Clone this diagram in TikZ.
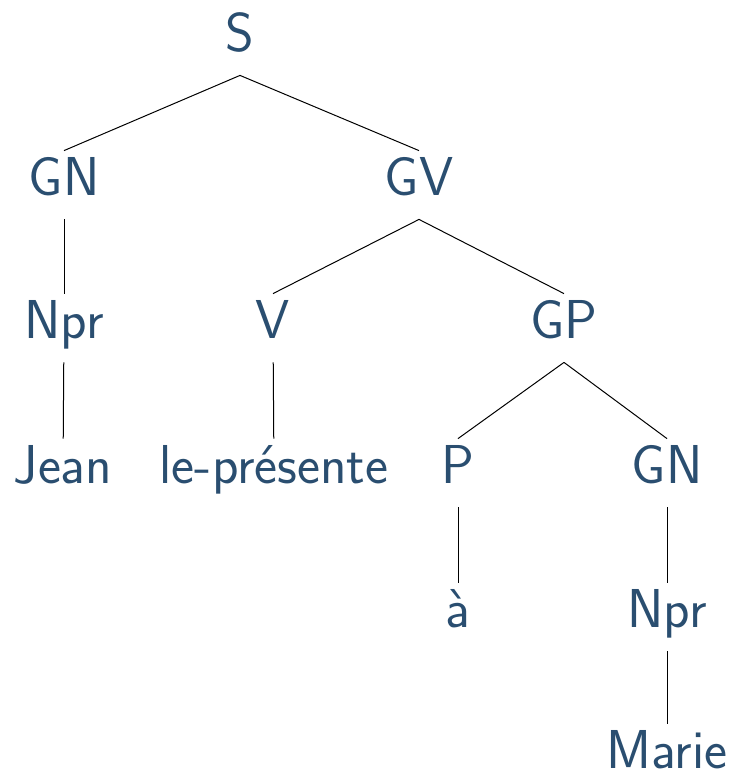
\documentclass[tikz,border=0pt]{standalone}
\usepackage{tikz}
\definecolor{treeblue}{RGB}{42,78,112}
\begin{document}
\begin{tikzpicture}[x=0.5pt,y=-0.5pt]

\tikzset{cat/.style={
  anchor=base,
  inner xsep=0pt, inner ysep=3.5pt,
  text height=18.5pt, text depth=8.5pt,
  text=treeblue,
  font=\sffamily\fontsize{27.4}{32}\selectfont
  }}
\tikzset{leaf/.style={cat, inner ysep=0pt, text depth=0pt}}
\tikzset{branch/.style={draw=black, line width=0.5pt}}

\useasboundingbox (0,0) rectangle (736,773);

\node[cat] (S) at (240,51) {S};

\node[cat] (GN) at (64,195) {GN};
\node[cat] (GV) at (419,195) {GV};

\node[cat] (Npr) at (64,338) {Npr};
\node[cat] (V) at (273,338) {V};
\node[cat] (GP) at (564,338) {GP};

\node[cat] (jean) at (63,483) {Jean};
\node[cat] (presente) at (274,483) {le-présente};
\node[cat] (P) at (458,483) {P};
\node[cat] (GNb) at (667,483) {GN};

\node[cat] (a) at (458,627) {à};
\node[cat] (Nprb) at (667,627) {Npr};

\node[leaf] (marie) at (667,768) {Marie};

\path[branch] (S.south) -- (GN.north);
\path[branch] (S.south) -- (GV.north);
\path[branch] (GN) -- (Npr);
\path[branch] (Npr) -- (jean);
\path[branch] (GV.south) -- (V.north);
\path[branch] (GV.south) -- (GP.north);
\path[branch] (V) -- (presente);
\path[branch] (GP.south) -- (P.north);
\path[branch] (GP.south) -- (GNb.north);
\path[branch] (P) -- (a);
\path[branch] (GNb) -- (Nprb);
\path[branch] (Nprb) -- ([yshift=3.5pt]marie.north);
\end{tikzpicture}
\end{document}
